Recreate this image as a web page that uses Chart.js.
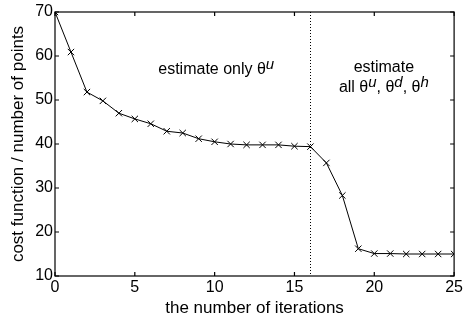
<!DOCTYPE html>
<html><head><meta charset="utf-8">
<script src="https://cdn.jsdelivr.net/npm/chart.js@4/dist/chart.umd.min.js"></script>
<style>html,body{margin:0;padding:0;background:#fff}#c{display:block}</style>
</head><body>
<canvas id="c" width="465" height="322"></canvas>
<script>
const iterations = [0,1,2,3,4,5,6,7,8,9,10,11,12,13,14,15,16,17,18,19,20,21,22,23,24,25];
const costValues = [70,60.9,51.8,49.8,47.0,45.7,44.6,42.9,42.5,41.2,40.5,40.0,39.8,39.8,39.8,39.5,39.4,35.7,28.3,16.2,15.1,15.1,15.0,15.0,15.0,15.0];
const xTicks = [0,5,10,15,20,25];
const yTicks = [10,20,30,40,50,60,70];
const switchIteration = 16;
const FONT = '"Liberation Sans", Arial, sans-serif';

const boxPlugin = {
  id: 'boxPlugin',
  afterDatasetsDraw(chart) {
    const {ctx, chartArea: a, scales: {x, y}} = chart;
    ctx.save();
    ctx.strokeStyle = '#000';
    ctx.lineWidth = 1;
    ctx.setLineDash([1, 2]);
    const xs = Math.round(x.getPixelForValue(switchIteration)) + 0.5;
    ctx.beginPath(); ctx.moveTo(xs, a.top); ctx.lineTo(xs, a.bottom); ctx.stroke();
    ctx.setLineDash([]);
    ctx.lineWidth = 1.2;
    ctx.strokeRect(a.left, a.top, a.right - a.left, a.bottom - a.top);
    const tl = 4;
    ctx.beginPath();
    xTicks.forEach(v => {
      const p = x.getPixelForValue(v);
      ctx.moveTo(p, a.bottom); ctx.lineTo(p, a.bottom - tl);
      ctx.moveTo(p, a.top); ctx.lineTo(p, a.top + tl);
    });
    yTicks.forEach(v => {
      const p = y.getPixelForValue(v);
      ctx.moveTo(a.left, p); ctx.lineTo(a.left + tl, p);
      ctx.moveTo(a.right, p); ctx.lineTo(a.right - tl, p);
    });
    ctx.stroke();
    ctx.fillStyle = '#000';
    ctx.textBaseline = 'alphabetic';
    const mainF = '16px ' + FONT, supF = 'italic 15px ' + FONT;
    function rich(parts, cx, cy) {
      let total = 0;
      parts.forEach(p => { ctx.font = p.sup ? supF : mainF; total += ctx.measureText(p.t).width; });
      let xx = cx - total / 2;
      parts.forEach(p => {
        ctx.font = p.sup ? supF : mainF;
        ctx.textAlign = 'left';
        ctx.fillText(p.t, xx, p.sup ? cy - 5 : cy);
        xx += ctx.measureText(p.t).width;
      });
    }
    const th = '\u03B8';
    rich([{t:'estimate only ' + th},{t:'u',sup:true}], x.getPixelForValue(10.1), y.getPixelForValue(56));
    rich([{t:'estimate'}], x.getPixelForValue(20.6), y.getPixelForValue(56.4));
    rich([{t:'all ' + th},{t:'u',sup:true},{t:', ' + th},{t:'d',sup:true},{t:', ' + th},{t:'h',sup:true}], x.getPixelForValue(20.6), y.getPixelForValue(51.8));
    ctx.restore();
  }
};

new Chart(document.getElementById('c'), {
  type: 'line',
  data: {
    datasets: [{
      data: iterations.map((v, i) => ({x: v, y: costValues[i]})),
      borderColor: '#000',
      borderWidth: 1,
      pointStyle: 'crossRot',
      pointRadius: 4.5,
      pointBorderColor: '#000',
      pointBorderWidth: 1,
      tension: 0,
      fill: false
    }]
  },
  options: {
    responsive: false,
    animation: false,
    events: [],
    layout: {padding: {left: 0, right: 10, top: 12, bottom: 0}},
    plugins: {legend: {display: false}, tooltip: {enabled: false}},
    scales: {
      x: {
        type: 'linear', min: 0, max: 25,
        afterBuildTicks: s => { s.ticks = xTicks.map(v => ({value: v})); },
        afterFit: s => { s.height = 46; },
        grid: {display: false, drawTicks: false},
        border: {display: false},
        ticks: {color: '#000', font: {family: FONT, size: 16}, padding: 2, maxRotation: 0},
        title: {display: true, text: 'the number of iterations', color: '#000', font: {family: FONT, size: 17}, padding: {top: 0, bottom: 3}}
      },
      y: {
        type: 'linear', min: 10, max: 70,
        afterBuildTicks: s => { s.ticks = yTicks.map(v => ({value: v})); },
        afterFit: s => { s.width = 55; },
        grid: {display: false, drawTicks: false},
        border: {display: false},
        ticks: {color: '#000', font: {family: FONT, size: 16}, padding: 2},
        title: {display: true, text: 'cost function / number of points', color: '#000', font: {family: FONT, size: 17}, padding: {top: 8, bottom: 0}}
      }
    }
  },
  plugins: [boxPlugin]
});
</script>
</body></html>
